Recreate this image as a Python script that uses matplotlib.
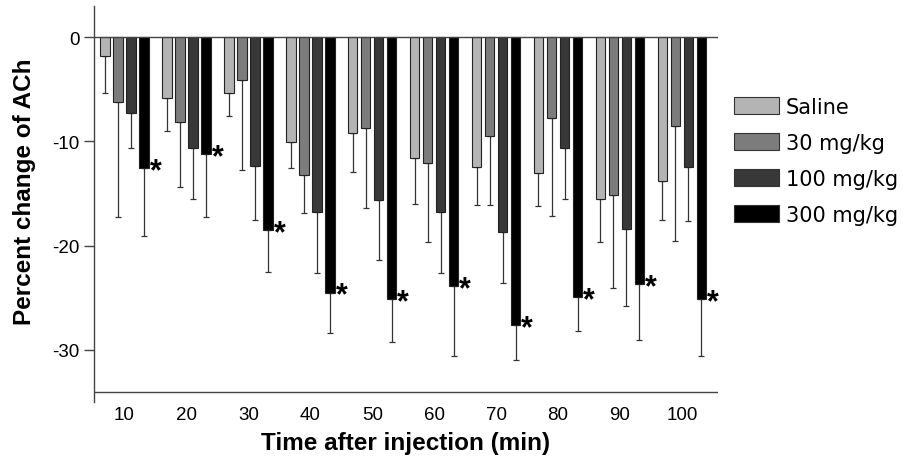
import matplotlib
matplotlib.use("Agg")
import matplotlib.pyplot as plt
from matplotlib.patches import Patch
import numpy as np

plt.rcParams['font.family'] = ['Liberation Sans', 'DejaVu Sans']

# Data (mean and lower error end, % change of ACh)
times = [10, 20, 30, 40, 50, 60, 70, 80, 90, 100]
groups = ['Saline', '30 mg/kg', '100 mg/kg', '300 mg/kg']
saline = [-1.8, -5.8, -5.4, -10.1, -9.2, -11.6, -12.5, -13.0, -15.5, -13.8]
mg30 = [-6.2, -8.1, -4.1, -13.2, -8.7, -12.1, -9.5, -7.8, -15.1, -8.5]
mg100 = [-7.3, -10.6, -12.4, -16.8, -15.6, -16.8, -18.7, -10.6, -18.4, -12.5]
mg300 = [-12.6, -11.2, -18.5, -24.5, -25.1, -23.9, -27.6, -24.9, -23.7, -25.1]
saline_err = [3.6, 3.2, 2.2, 2.5, 3.7, 4.4, 3.6, 3.2, 4.2, 3.7]
mg30_err = [11.1, 6.3, 8.6, 3.7, 7.7, 7.6, 6.6, 9.4, 9.0, 11.1]
mg100_err = [3.3, 4.9, 5.1, 5.8, 5.8, 5.8, 4.9, 4.9, 7.4, 5.1]
mg300_err = [6.5, 6.1, 4.0, 3.9, 4.1, 6.7, 3.4, 3.3, 5.4, 5.5]
significant = [True] * 10

means = [saline, mg30, mg100, mg300]
errs = [saline_err, mg30_err, mg100_err, mg300_err]
colors = ['#b4b4b4', '#7c7c7c', '#383838', '#000000']

fig = plt.figure(figsize=(9.04, 4.6), dpi=100)
ax = fig.add_axes([0.1037, 0.124, 0.794 - 0.1037, 0.985 - 0.124])

x = np.arange(1, len(times) + 1)
step = 0.21
width = 0.153
for k in range(4):
    pos = x + (k - 1.5) * step
    m = np.array(means[k])
    e = np.array(errs[k])
    ax.bar(pos, m, width=width, color=colors[k], edgecolor='#222222', linewidth=0.8, zorder=2)
    # one-sided (downward) error bars
    ax.errorbar(pos, m, yerr=[e, np.zeros_like(e)], fmt='none', ecolor='#333333',
                elinewidth=0.9, capsize=2.5, capthick=0.9, zorder=1)

# asterisks next to the 300 mg/kg bars
for i, sig in enumerate(significant):
    if sig:
        ax.text(x[i] + 1.5 * step + width / 2 + 0.015, mg300[i] - 0.3, '*',
                fontsize=22, fontweight='bold', ha='left', va='center')

ax.axhline(0, color='#444444', lw=1.0, zorder=3)
ax.axhline(-34, color='#444444', lw=1.0)

ax.set_xlim(0.503, 10.58)
ax.set_ylim(-35, 3)
ax.set_xticks(x)
ax.set_xticklabels([str(t) for t in times])
ax.set_yticks([0, -10, -20, -30])
ax.set_yticklabels(['0', '-10', '-20', '-30'])
ax.tick_params(axis='x', length=0, pad=3, labelsize=13.5)
ax.tick_params(axis='y', length=7, width=1.0, color='#444444', pad=3, labelsize=13.5)

for s in ['top', 'right', 'bottom']:
    ax.spines[s].set_visible(False)
ax.spines['left'].set_color('#444444')
ax.spines['left'].set_linewidth(1.0)

ax.set_xlabel('Time after injection (min)', fontsize=17.5, fontweight='bold', labelpad=6)
ax.set_ylabel('Percent change of ACh', fontsize=17.5, fontweight='bold')
ax.yaxis.set_label_coords(-0.0924, 0.534)

handles = [Patch(facecolor=c, edgecolor='#333333', linewidth=0.8) for c in colors]
fig.legend(handles, groups, loc='upper left', bbox_to_anchor=(734 / 904, 1 - 98 / 460),
           frameon=False, prop={'family': 'DejaVu Sans', 'size': 15},
           handlelength=2.15, handleheight=0.85,
           labelspacing=0.76, handletextpad=0.35, borderpad=0, borderaxespad=0)

fig.savefig('out.png', dpi=100)
